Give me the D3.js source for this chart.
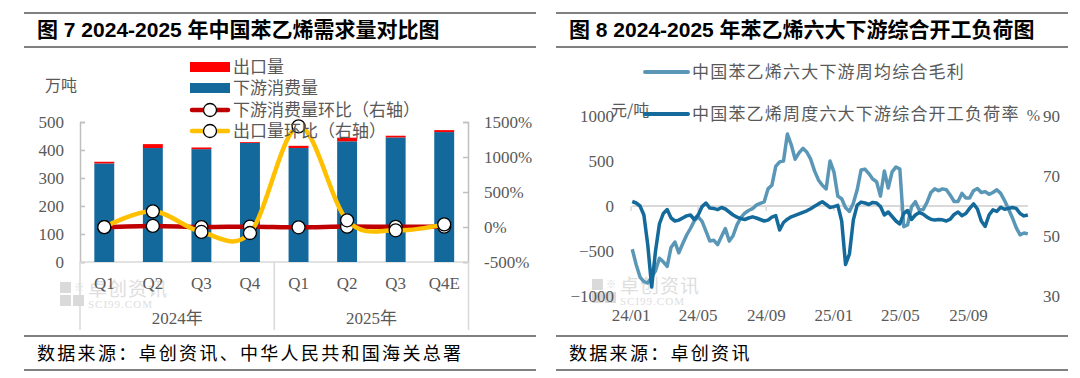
<!DOCTYPE html>
<html lang="zh-CN">
<head>
<meta charset="UTF-8">
<title>苯乙烯需求量与下游开工</title>
<script src="https://d3js.org/d3.v7.min.js"></script>
<style>
  body { margin: 0; background: #fff; }
  svg { display: block; }
</style>
</head>
<body>
<div id="chart"></div>
<script>
// ---- 图7 数据 ----
const quarters = ["Q1", "Q2", "Q3", "Q4", "Q1", "Q2", "Q3", "Q4E"];
const years = ["2024年", "2025年"];
const consumption = [352, 407, 403, 425, 407, 431, 445, 464];   // 下游消费量
const exportVol = [6, 14, 6, 3, 8, 13, 6, 7];                   // 出口量
const consumptionQoQ = [-3, 15, -1, 5, -4, 6, 3, 4];            // 下游消费量环比 %
const exportQoQ = [-2, 224, -71, -86, 1438, 96, -47, 38];       // 出口量环比 %
const leftTicks = [0, 100, 200, 300, 400, 500];
const pctTicks = [-500, 0, 500, 1000, 1500];

// ---- 图8 数据（周度） ----
const weekStart = "2024-01-04";
const profit = [
  -480, -650, -790, -840, -855, -790, -720, -580, -620, -670,
  -460, -400, -520, -420, -325, -250, -165, -120, -170, -280,
  -390, -380, -430, -340, -250, -390, -330, -210, -130, -80,
  -50, -30, 10, 30, 45, 190, 230, 440, 490, 500,
  800, 680, 520, 590, 640, 600, 520, 390, 290, 230,
  190, 500, 380, 110, 80, -20, -60, 30, 180, 400,
  410, 360, 300, 270, 110, 390, 200, 380, 434, 410,
  -230, -210, -10, 48, -45, -40, 40, 150, 190, 170,
  190, 180, 120, 50, 50, 140, 90, 90, 170, 195,
  150, 160, 130, 150, 180, 140, 60, -30, -130, -240,
  -320, -300, -310
];
const loadRate = [
  61.5, 61, 60, 57, 47, 33, 45, 54, 57.5, 58.8,
  56, 55, 55.3, 56, 56.7, 57, 55.5, 57, 59.8, 61,
  59.3, 59.2, 58.8, 59.5, 59, 58, 57, 56.3, 55.8, 55.5,
  56, 56.4, 56, 55.5, 55, 55.3, 56.3, 56.8, 52, 54.5,
  55.6, 56.4, 56.9, 57.4, 57.9, 58.4, 59.1, 59.9, 60.7, 61.4,
  60.5, 59.5, 59.8, 60.2, 55, 40.5, 44, 55.3, 60.3, 61.3,
  61, 60.5, 61.2, 61, 59.8, 57, 58, 56.5, 55, 54,
  57.5, 58.5, 55.5, 57, 57.8, 57.3, 56.3, 55.6, 55.3, 55.5,
  55.4, 55, 55.6, 57.2, 58, 56.8, 57.5, 59.2, 60.7, 59,
  55, 53.2, 57, 58.7, 58.2, 59.6, 58.9, 59.2, 59.5, 59.2,
  57.5, 56.7, 57
];
const profitTicks = [-1000, -500, 0, 500, 1000];
const loadTicks = [30, 50, 70, 90];
const dateTicks = ["2024-01-01", "2024-05-01", "2024-09-01", "2025-01-01", "2025-05-01", "2025-09-01"];

const serif = '"Liberation Serif", "Noto Sans CJK SC", serif';
const cjk = '"Noto Sans CJK SC", sans-serif';
const gray = "#595959";
const barBlue = "#14699c";
const lightBlue = "#5a97b7";
const darkBlue = "#146a9b";

const svg = d3.select("#chart").append("svg")
  .attr("width", 1080).attr("height", 378);

// 标题、来源和分隔线
function frame(x0, x1, title, source) {
  const g = svg.append("g");
  [13, 47, 336, 370].forEach(y => {
    g.append("line").attr("x1", x0).attr("x2", x1).attr("y1", y).attr("y2", y)
      .attr("stroke", "#808080").attr("stroke-width", 2);
  });
  g.append("text").attr("x", x0 + 13).attr("y", 37)
    .attr("font-family", '"Liberation Sans", "Noto Sans CJK SC", sans-serif')
    .attr("font-weight", "bold").attr("font-size", 21).attr("fill", "#000")
    .text(title);
  g.append("text").attr("x", x0 + 13).attr("y", 360)
    .attr("font-family", cjk).attr("font-size", 18).attr("letter-spacing", 2.3)
    .attr("fill", "#000").text(source);
}
frame(24, 536, "图 7 2024-2025 年中国苯乙烯需求量对比图", "数据来源：卓创资讯、中华人民共和国海关总署");
frame(556, 1068, "图 8 2024-2025 年苯乙烯六大下游综合开工负荷图", "数据来源：卓创资讯");

function watermark(x, y) {
  const g = svg.append("g").attr("opacity", 0.55);
  g.append("rect").attr("x", x).attr("y", y).attr("width", 11).attr("height", 11).attr("fill", "#bdbdbd");
  g.append("rect").attr("x", x).attr("y", y + 13).attr("width", 11).attr("height", 11).attr("fill", "#bdbdbd");
  g.append("rect").attr("x", x + 13).attr("y", y + 13).attr("width", 11).attr("height", 11).attr("fill", "#bdbdbd");
  g.append("text").attr("x", x + 14).attr("y", y + 9).attr("font-size", 10).attr("fill", "#bdbdbd").text("※");
  g.append("text").attr("x", x + 28).attr("y", y + 14).attr("font-family", cjk)
    .attr("font-size", 19).attr("fill", "#c4c4c4").attr("letter-spacing", 1).text("卓创资讯");
  g.append("text").attr("x", x + 28).attr("y", y + 26).attr("font-family", serif)
    .attr("font-size", 11).attr("fill", "#c4c4c4").attr("letter-spacing", 1).text("SCI99.COM");
}

// ================= 图7 =================
const x7 = d3.scaleBand().domain(d3.range(quarters.length)).range([80, 468.5]).paddingInner(0.59).paddingOuter(0.295);
const y7 = d3.scaleLinear().domain([0, 500]).range([262, 122]);
const y7r = d3.scaleLinear().domain([-500, 1500]).range([262, 122]);

watermark(60, 282);

const axL = svg.append("g").attr("transform", "translate(80,0)")
  .call(d3.axisLeft(y7).tickValues(leftTicks).tickSize(-5).tickPadding(16));
const axR = svg.append("g").attr("transform", "translate(468,0)")
  .call(d3.axisRight(y7r).tickValues(pctTicks).tickSize(-5).tickPadding(16).tickFormat(d => d + "%"));
[axL, axR].forEach(a => {
  a.selectAll("path, line").attr("stroke", "#bfbfbf").attr("stroke-width", 1.5);
  a.selectAll("text").attr("font-family", serif).attr("font-size", 17).attr("fill", gray);
});

svg.append("text").attr("x", 45).attr("y", 91).attr("font-family", cjk)
  .attr("font-size", 16).attr("fill", gray).text("万吨");

// 分类轴
const catG = svg.append("g");
catG.append("line").attr("x1", 80).attr("x2", 468.5).attr("y1", 262).attr("y2", 262)
  .attr("stroke", "#d9d9d9").attr("stroke-width", 1.5);
[0, 4, 8].forEach(i => {
  const xx = i === 8 ? 468.5 : x7(i) - x7.step() * 0.295;
  catG.append("line").attr("x1", xx).attr("x2", xx).attr("y1", 262).attr("y2", 330)
    .attr("stroke", "#d9d9d9").attr("stroke-width", 1.5);
});
catG.selectAll("text.q").data(quarters).join("text").attr("class", "q")
  .attr("x", (d, i) => x7(i) + x7.bandwidth() / 2).attr("y", 289)
  .attr("text-anchor", "middle").attr("font-family", serif).attr("font-size", 17)
  .attr("fill", gray).text(d => d);
catG.selectAll("text.yr").data(years).join("text").attr("class", "yr")
  .attr("x", (d, i) => (x7(i * 4) + x7(i * 4 + 3) + x7.bandwidth()) / 2).attr("y", 324)
  .attr("text-anchor", "middle").attr("font-family", serif).attr("font-size", 17)
  .attr("fill", gray).text(d => d);

// 柱：下游消费量 + 出口量（堆积）
svg.append("g").selectAll("rect").data(consumption).join("rect")
  .attr("x", (d, i) => x7(i)).attr("width", x7.bandwidth())
  .attr("y", d => y7(d)).attr("height", d => y7(0) - y7(d)).attr("fill", barBlue);
svg.append("g").selectAll("rect").data(exportVol).join("rect")
  .attr("x", (d, i) => x7(i)).attr("width", x7.bandwidth())
  .attr("y", (d, i) => y7(consumption[i] + d)).attr("height", d => y7(0) - y7(d))
  .attr("fill", "#ff0000");

// 折线（右轴）
const cx = i => x7(i) + x7.bandwidth() / 2;
const line7 = d3.line().x((d, i) => cx(i)).y(d => y7r(d)).curve(d3.curveCatmullRom.alpha(0));
function drawSeries(vals, color) {
  svg.append("path").datum(vals).attr("d", line7).attr("fill", "none")
    .attr("stroke", color).attr("stroke-width", 4.5).attr("stroke-linecap", "round");
}
function drawMarkers(vals) {
  svg.append("g").selectAll("circle").data(vals).join("circle")
    .attr("cx", (d, i) => cx(i)).attr("cy", d => y7r(d)).attr("r", 6.5)
    .attr("fill", "#fff").attr("stroke", "#000").attr("stroke-width", 1.3);
}
drawSeries(consumptionQoQ, "#c00000");
drawMarkers(consumptionQoQ);
drawSeries(exportQoQ, "#ffc000");
drawMarkers(exportQoQ);

// 图例
const leg7 = svg.append("g").attr("font-family", cjk).attr("font-size", 17).attr("fill", gray);
const legItems = [
  { name: "出口量", type: "bar", color: "#ff0000", y: 67 },
  { name: "下游消费量", type: "bar", color: barBlue, y: 88 },
  { name: "下游消费量环比（右轴）", type: "line", color: "#c00000", y: 110 },
  { name: "出口量环比（右轴）", type: "line", color: "#ffc000", y: 131 }
];
legItems.forEach(it => {
  if (it.type === "bar") {
    leg7.append("rect").attr("x", 190).attr("y", it.y - 5).attr("width", 40).attr("height", 10).attr("fill", it.color);
  } else {
    leg7.append("line").attr("x1", 192).attr("x2", 228).attr("y1", it.y).attr("y2", it.y)
      .attr("stroke", it.color).attr("stroke-width", 4.5).attr("stroke-linecap", "round");
    leg7.append("circle").attr("cx", 210).attr("cy", it.y).attr("r", 6.5)
      .attr("fill", "#fff").attr("stroke", "#000").attr("stroke-width", 1.3);
  }
  leg7.append("text").attr("x", 233).attr("y", it.y + 6).text(it.name);
});

// ================= 图8 =================
const parse = d3.timeParse("%Y-%m-%d");
const t0 = parse(weekStart);
const weeks = profit.map((d, i) => d3.timeDay.offset(t0, i * 7));
const x8 = d3.scaleTime().domain([parse("2024-01-01"), parse("2025-09-01")]).range([630.6, 968]);
const y8 = d3.scaleLinear().domain([-1000, 1000]).range([296, 116]);
const y8r = d3.scaleLinear().domain([30, 90]).range([296, 116]);

watermark(592, 279);

// 零轴线
svg.append("line").attr("x1", x8(weeks[0])).attr("x2", x8(weeks[weeks.length - 1]))
  .attr("y1", y8(0)).attr("y2", y8(0)).attr("stroke", "#d9d9d9").attr("stroke-width", 2);
const tickAx = svg.append("g").attr("transform", `translate(0,${y8(0)})`)
  .call(d3.axisBottom(x8).tickValues(dateTicks.map(parse)).tickSize(5).tickFormat(""));
tickAx.select(".domain").remove();
tickAx.selectAll("line").attr("stroke", "#d9d9d9").attr("stroke-width", 1.5);

const dateAx = svg.append("g").attr("transform", "translate(0,306)")
  .call(d3.axisBottom(x8).tickValues(dateTicks.map(parse)).tickSize(0).tickPadding(0)
    .tickFormat(d3.timeFormat("%y/%m")));
const ax8L = svg.append("g").attr("transform", "translate(614,0)")
  .call(d3.axisLeft(y8).tickValues(profitTicks).tickSize(0).tickPadding(0).tickFormat(d3.format("d")));
const ax8R = svg.append("g").attr("transform", "translate(1043,0)")
  .call(d3.axisRight(y8r).tickValues(loadTicks).tickSize(0).tickPadding(0).tickFormat(d3.format("d")));
[dateAx, ax8L, ax8R].forEach(a => {
  a.select(".domain").remove();
  a.selectAll("text").attr("font-family", serif).attr("font-size", 17).attr("fill", gray);
});
dateAx.selectAll("text").attr("dy", "0.9em");

svg.append("text").attr("x", 611).attr("y", 116).attr("font-family", cjk)
  .attr("font-size", 16).attr("fill", gray).text("元/吨");
svg.append("text").attr("x", 1040).attr("y", 121).attr("text-anchor", "end")
  .attr("font-family", serif).attr("font-size", 16).attr("fill", gray).text("%");

const lineProfit = d3.line().x((d, i) => x8(weeks[i])).y(d => y8(d));
const lineLoad = d3.line().x((d, i) => x8(weeks[i])).y(d => y8r(d));
svg.append("path").datum(profit).attr("d", lineProfit).attr("fill", "none")
  .attr("stroke", lightBlue).attr("stroke-width", 3.5).attr("stroke-linejoin", "round");
svg.append("path").datum(loadRate).attr("d", lineLoad).attr("fill", "none")
  .attr("stroke", darkBlue).attr("stroke-width", 3.5).attr("stroke-linejoin", "round");

// 图例
const leg8 = [
  { name: "中国苯乙烯六大下游周均综合毛利", color: lightBlue, y: 72 },
  { name: "中国苯乙烯周度六大下游综合开工负荷率", color: darkBlue, y: 114 }
];
leg8.forEach(it => {
  svg.append("line").attr("x1", 645).attr("x2", 688).attr("y1", it.y).attr("y2", it.y)
    .attr("stroke", it.color).attr("stroke-width", 4).attr("stroke-linecap", "round");
  svg.append("text").attr("x", 692).attr("y", it.y + 6).attr("font-family", cjk)
    .attr("font-size", 17).attr("letter-spacing", 1.2).attr("fill", gray).text(it.name);
});
</script>
</body>
</html>
